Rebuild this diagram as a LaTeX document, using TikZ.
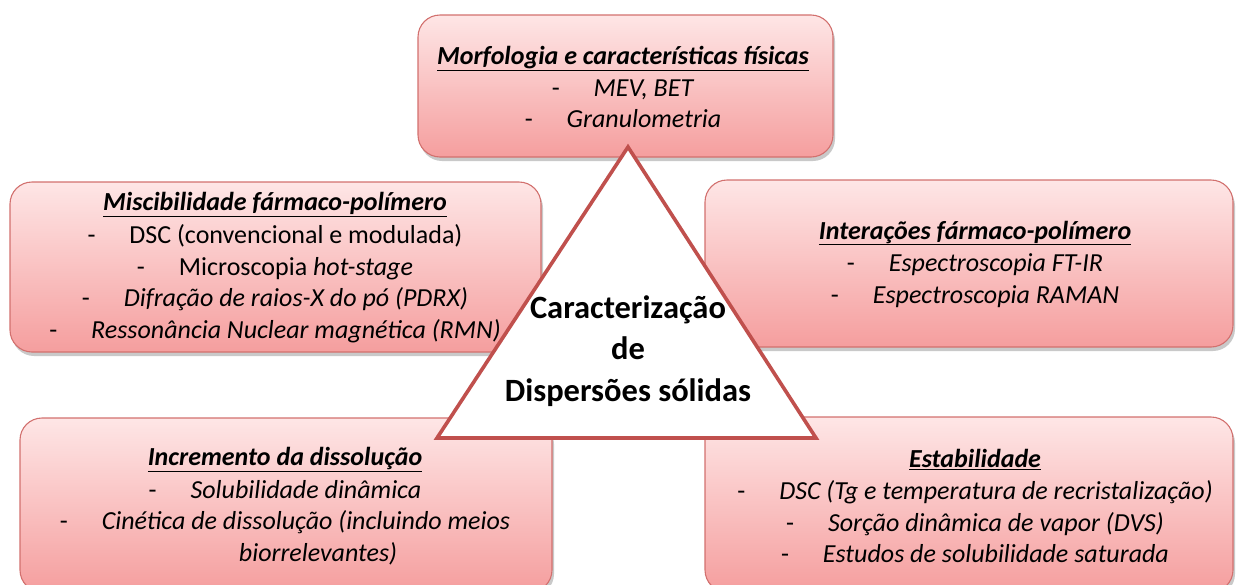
\documentclass[tikz,border=0pt]{standalone}
\usepackage{fontspec}
\setmainfont{Carlito}
\usetikzlibrary{shadows}
\definecolor{boxtop}{RGB}{254,230,230}
\definecolor{boxbot}{RGB}{245,158,158}
\definecolor{boxline}{RGB}{210,112,110}
\definecolor{triline}{RGB}{192,80,77}
\newcommand{\hd}[1]{\textbf{\textit{\underline{#1}}}}
\newcommand{\dl}{-\hspace{34pt}}
\begin{document}
\begin{tikzpicture}[x=1pt,y=-1pt,
  box/.style={draw=boxline, line width=1.1pt, rounded corners=22pt,
    top color=boxtop, bottom color=boxbot, inner sep=0pt,
    drop shadow={shadow xshift=2pt, shadow yshift=-4pt, opacity=0.3, fill=black!70}},
  txt/.style={align=center, inner sep=0pt, font=\fontsize{26}{31.5}\selectfont},
  centertxt/.style={align=center, inner sep=0pt, font=\fontsize{32.5}{41.5}\selectfont\bfseries},
  tri/.style={draw=triline, line width=3.6pt, fill=white, line join=miter}]
\useasboundingbox (0,0) rectangle (1237,584);
% boxes
\node[box, minimum width=415pt, minimum height=142pt] (btop) at (625.5,86) {};
\node[box, minimum width=531pt, minimum height=170pt] (bleft) at (275.5,267) {};
\node[box, minimum width=528pt, minimum height=167pt] (bright) at (969,263.5) {};
\node[box, minimum width=532pt, minimum height=174pt] (bbl) at (286,505) {};
\node[box, minimum width=528pt, minimum height=175pt] (bbr) at (969,504.5) {};
% triangle
\coordinate (tA) at (628,147);
\coordinate (tB) at (437,438);
\coordinate (tC) at (816,438);
\draw[tri] (tA) -- (tB) -- (tC) -- cycle;
% texts
\node[txt] (ttop) at (623,87) {\hd{Morfologia e características físicas}\\
  \dl\textit{MEV, BET}\\ \dl\textit{Granulometria}};
\node[txt] (tleft) at (275,267.5) {\hd{Miscibilidade fármaco-polímero}\\[2pt]
  \dl DSC (convencional e modulada)\\
  \dl Microscopia \textit{hot-stage}\\
  \dl\textit{Difração de raios-X do pó (PDRX)}\\
  \dl\textit{Ressonância Nuclear magnética (RMN)}};
\node[txt] (tright) at (975,264) {\hd{Interações fármaco-polímero}\\[1pt]
  \dl\textit{Espectroscopia FT-IR}\\
  \dl\textit{Espectroscopia RAMAN}};
\node[txt] (tbl) at (285,506) {\hd{Incremento da dissolução}\\[1pt]
  \dl\textit{Solubilidade dinâmica}\\
  \dl\textit{Cinética de dissolução (incluindo meios}\\
  \hspace*{66pt}\textit{biorrelevantes)}};
\node[txt] (tbr) at (975,506) {\hd{Estabilidade}\\[1pt]
  \dl\textit{DSC (Tg e temperatura de recristalização)}\\
  \dl\textit{Sorção dinâmica de vapor (DVS)}\\
  \dl\textit{Estudos de solubilidade saturada}};
\node[centertxt] (tcenter) at (628,351) {Caracterização\\de\\Dispersões sólidas};
\end{tikzpicture}
\end{document}
